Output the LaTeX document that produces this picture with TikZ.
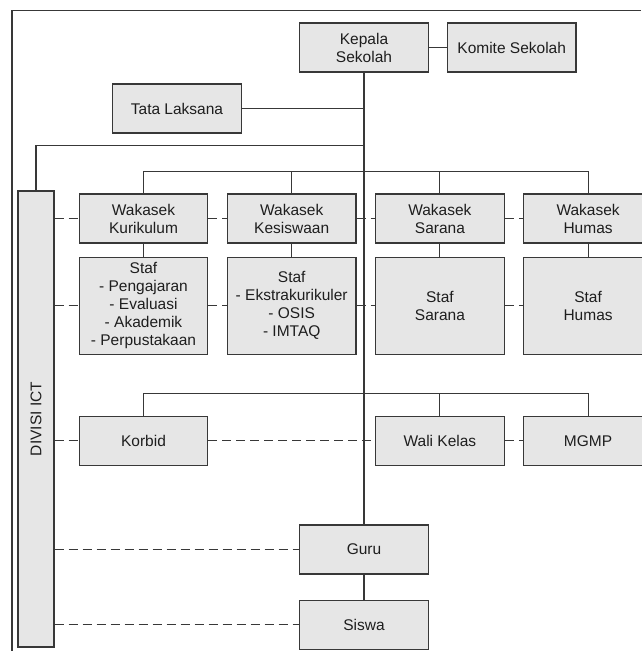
\documentclass[tikz,border=0pt]{standalone}
\usepackage{fontspec}
\setmainfont{Liberation Sans}
\usetikzlibrary{positioning}

\definecolor{boxfill}{HTML}{E6E6E6}
\definecolor{linegray}{HTML}{383838}
\definecolor{textgray}{HTML}{1E1E1E}

\begin{document}
\begin{tikzpicture}[x=1pt,y=-1pt,
                    unit/.style={rectangle,draw=linegray,fill=boxfill,text=textgray,align=center,
                      line width=1.2pt,minimum width=128.5pt,minimum height=49pt,inner sep=0pt,
                      font=\fontsize{15.5}{18}\selectfont},
                    staf/.style={unit,minimum height=97pt},
                    link/.style={draw=linegray,line width=1.15pt},
                    dashlink/.style={link,dash pattern=on 9pt off 5pt}]

  \useasboundingbox (0,0) rectangle (641,651);

  \node[unit] (1) at (364,47.5) {Kepala\\Sekolah};
  \node[unit] (2) [right=18pt of 1] {Komite Sekolah};
  \node[unit] (3) at (177,108.5) {Tata Laksana};

  \node[unit] (4) at (143.5,218.5) {Wakasek\\Kurikulum};
  \node[unit] (5) [right=18.5pt of 4] {Wakasek\\Kesiswaan};
  \node[unit] (6) [right=18.5pt of 5] {Wakasek\\Sarana};
  \node[unit] (7) [right=18.5pt of 6] {Wakasek\\Humas};

  \node[staf] (8) [below=13pt of 4] {Staf\\- Pengajaran\\- Evaluasi\\- Akademik\\- Perpustakaan};
  \node[staf] (9) [below=13pt of 5] {Staf\\- Ekstrakurikuler\\- OSIS\\- IMTAQ};
  \node[staf] (10) [below=13pt of 6] {Staf\\Sarana};
  \node[staf] (11) [below=13pt of 7] {Staf\\Humas};

  \node[unit] (12) [below=61pt of 8] {Korbid};
  \node[unit] (13) [below=61pt of 10] {Wali Kelas};
  \node[unit] (14) [below=61pt of 11] {MGMP};

  \node[unit] (15) at (364,549.5) {Guru};
  \node[unit] (16) [below=25pt of 15] {Siswa};

  \node[unit,minimum width=36pt,minimum height=456pt] (17) at (36,419) {\rotatebox{90}{DIVISI ICT}};

  \coordinate (ict) at (0,145.5);

  \draw[link,line width=1.3pt] (12,651) -- (12,10.5) -- (641,10.5);

  \path[link] (1) edge (2)
              (3) edge (3 -| 1)
              (1) edge (15)
              (15) edge (16)
              (4) edge (8)
              (5) edge (9)
              (6) edge (10)
              (7) edge (11);

  \draw[link] (17.north) |- (1 |- ict);
  \draw[link] (4.north) -- ++(0,-22) -| (7.north);
  \draw[link] (5.north) -- ++(0,-22);
  \draw[link] (6.north) -- ++(0,-22);
  \draw[link] (12.north) -- ++(0,-22) -| (14.north);
  \draw[link] (13.north) -- ++(0,-22);

  \path[dashlink] (17.east |- 4) edge (4)
                  (4) edge (5)
                  (5) edge (6)
                  (6) edge (7)
                  (17.east |- 8) edge (8)
                  (8) edge (9)
                  (9) edge (10)
                  (10) edge (11)
                  (17.east |- 12) edge (12)
                  (12) edge (13)
                  (13) edge (14)
                  (17.east |- 15) edge (15)
                  (17.east |- 16) edge (16);

\end{tikzpicture}
\end{document}
